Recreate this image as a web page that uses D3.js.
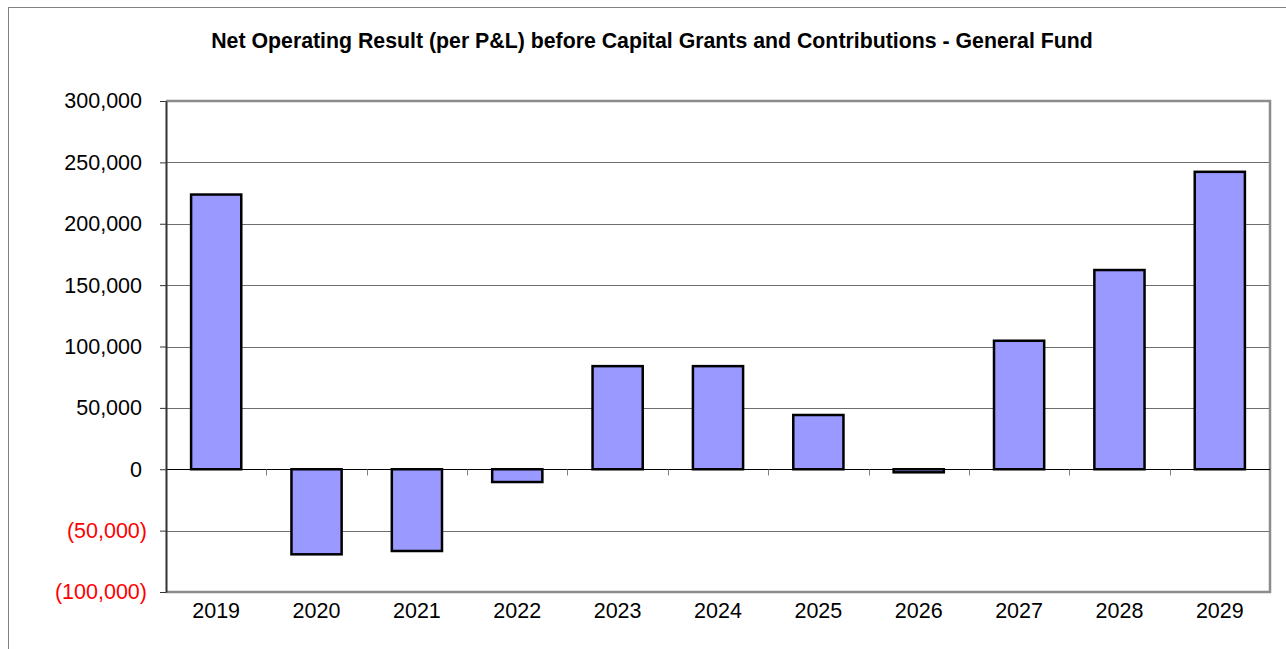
<!DOCTYPE html>
<html>
<head>
<meta charset="utf-8">
<script src="https://cdn.jsdelivr.net/npm/d3@7"></script>
<style>
  html, body { margin: 0; padding: 0; background: #fff; }
  svg { display: block; font-family: "Liberation Sans", Arial, sans-serif; }
</style>
</head>
<body>
<svg id="chart" width="1286" height="649"></svg>
<script>
// Net operating result by year (dollars)
const years = ["2019", "2020", "2021", "2022", "2023", "2024", "2025", "2026", "2027", "2028", "2029"];
const results = [223800, -69300, -66600, -10400, 84000, 84000, 44200, -2500, 104700, 162300, 242300];
const yTicks = [-100000, -50000, 0, 50000, 100000, 150000, 200000, 250000, 300000];
const chartTitle = "Net Operating Result (per P&L) before Capital Grants and Contributions - General Fund";

const svg = d3.select("#chart");
const W = 1286, H = 649;
const plot = { left: 166, right: 1270, top: 101, bottom: 592 };

// outer chart frame
svg.append("rect")
  .attr("x", 8.5).attr("y", 7.5)
  .attr("width", W + 10).attr("height", H + 10)
  .attr("fill", "#fff").attr("stroke", "#808080").attr("stroke-width", 1);

svg.append("text")
  .attr("x", 652).attr("y", 48)
  .attr("text-anchor", "middle")
  .attr("font-size", 21.3).attr("font-weight", "bold")
  .attr("fill", "#000")
  .text(chartTitle);

const x = d3.scaleBand().domain(years).range([plot.left, plot.right]).padding(0);
const y = d3.scaleLinear().domain([-100000, 300000]).range([plot.bottom, plot.top]);

// gridlines
svg.append("g").selectAll("line")
  .data(yTicks.filter(t => t !== 0 && t !== 300000 && t !== -100000))
  .join("line")
  .attr("x1", plot.left).attr("x2", plot.right)
  .attr("y1", d => Math.round(y(d)) + 0.5).attr("y2", d => Math.round(y(d)) + 0.5)
  .attr("stroke", "#6e6e6e").attr("stroke-width", 1);

// plot area border (top, right, bottom)
svg.append("path")
  .attr("d", `M${plot.left},${plot.top}H${plot.right}V${plot.bottom}H${plot.left}`)
  .attr("fill", "none").attr("stroke", "#8c8c8c").attr("stroke-width", 2.5);

// bars
const barW = x.bandwidth() * 0.5;
svg.append("g").selectAll("rect")
  .data(years.map((yr, i) => ({ yr, v: results[i] })))
  .join("rect")
  .attr("x", d => x(d.yr) + (x.bandwidth() - barW) / 2)
  .attr("width", barW)
  .attr("y", d => y(Math.max(0, d.v)))
  .attr("height", d => Math.abs(y(d.v) - y(0)))
  .attr("fill", "#9999ff")
  .attr("stroke", "#000").attr("stroke-width", 2.5);

// zero line with category tick marks
const zeroY = Math.round(y(0)) + 0.5;
svg.append("line")
  .attr("x1", plot.left).attr("x2", plot.right)
  .attr("y1", zeroY).attr("y2", zeroY)
  .attr("stroke", "#000").attr("stroke-width", 1);
svg.append("g").selectAll("line")
  .data(years.slice(1))
  .join("line")
  .attr("x1", d => Math.round(x(d)) + 0.5).attr("x2", d => Math.round(x(d)) + 0.5)
  .attr("y1", zeroY).attr("y2", zeroY + 6)
  .attr("stroke", "#808080").attr("stroke-width", 1);

// y axis: accounting format, positives leave room for the closing parenthesis
const fmt = d3.format(",");
const yAxis = d3.axisLeft(y).tickValues(yTicks).tickSize(6).tickSizeOuter(0).tickPadding(13)
  .tickFormat(d => d < 0 ? `(${fmt(-d)})` : fmt(d));
const gy = svg.append("g").attr("transform", `translate(${plot.left},0)`).call(yAxis);
gy.select(".domain").attr("stroke", "#333").attr("stroke-width", 2);
gy.selectAll(".tick line").attr("stroke", "#333");
gy.selectAll(".tick text")
  .attr("font-size", 21.5).attr("font-family", "Liberation Sans, Arial, sans-serif")
  .attr("dx", d => d < 0 ? 0 : -5)
  .attr("fill", d => d < 0 ? "#ff0000" : "#000");

// x labels
svg.append("g").selectAll("text")
  .data(years)
  .join("text")
  .attr("x", d => x(d) + x.bandwidth() / 2)
  .attr("y", 618)
  .attr("text-anchor", "middle")
  .attr("font-size", 21.5)
  .attr("fill", "#000")
  .text(d => d);
</script>
</body>
</html>
